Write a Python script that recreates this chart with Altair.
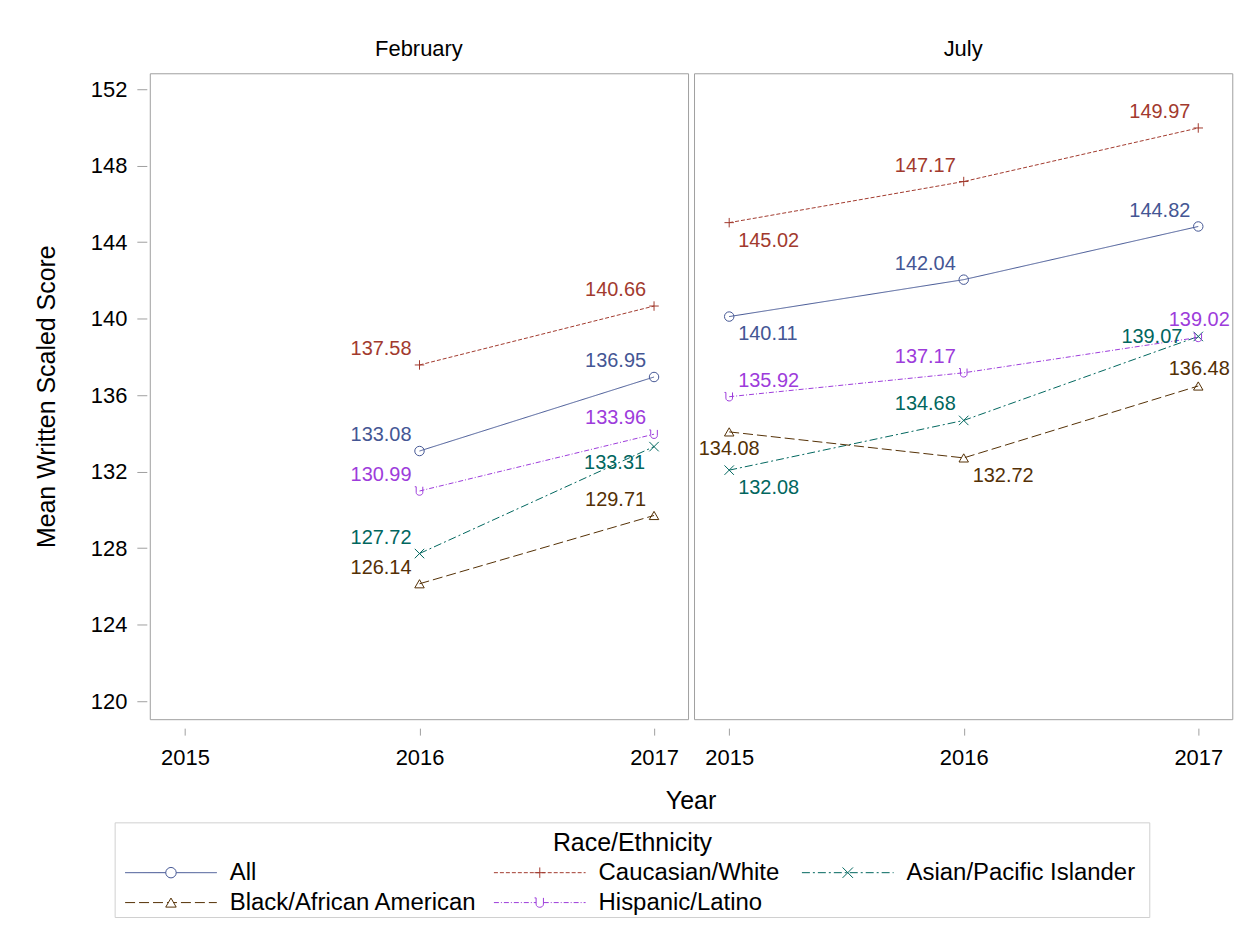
import altair as alt
import pandas as pd

# ---------------- data ----------------
groups = ["All", "Caucasian/White", "Asian/Pacific Islander",
          "Black/African American", "Hispanic/Latino"]
colors = ["#445694", "#A23A2E", "#01665E", "#543005", "#9D3CDB"]
months = ["February", "July"]
tick_years = [2015, 2016, 2017]
y_ticks = [120, 124, 128, 132, 136, 140, 144, 148, 152]

feb_years = [2016, 2017]
feb_all = [133.08, 136.95]
feb_white = [137.58, 140.66]
feb_asian = [127.72, 133.31]
feb_black = [126.14, 129.71]
feb_hisp = [130.99, 133.96]

jul_years = [2015, 2016, 2017]
jul_all = [140.11, 142.04, 144.82]
jul_white = [145.02, 147.17, 149.97]
jul_asian = [132.08, 134.68, 139.07]
jul_black = [134.08, 132.72, 136.48]
jul_hisp = [135.92, 137.17, 139.02]

# label placement codes (compass side of the point where the value label sits)
feb_all_pos = ["NW", "NW"]
feb_white_pos = ["NW", "NW"]
feb_asian_pos = ["NW", "SW"]
feb_black_pos = ["NW", "NW"]
feb_hisp_pos = ["NW", "NW"]
jul_all_pos = ["SE", "NW", "NW"]
jul_white_pos = ["SE", "NW", "NW"]
jul_asian_pos = ["SE", "NW", "W"]
jul_black_pos = ["S", "SE", "N"]
jul_hisp_pos = ["NE", "NW", "N"]

series = [
    ("February", "All", feb_years, feb_all, feb_all_pos),
    ("February", "Caucasian/White", feb_years, feb_white, feb_white_pos),
    ("February", "Asian/Pacific Islander", feb_years, feb_asian, feb_asian_pos),
    ("February", "Black/African American", feb_years, feb_black, feb_black_pos),
    ("February", "Hispanic/Latino", feb_years, feb_hisp, feb_hisp_pos),
    ("July", "All", jul_years, jul_all, jul_all_pos),
    ("July", "Caucasian/White", jul_years, jul_white, jul_white_pos),
    ("July", "Asian/Pacific Islander", jul_years, jul_asian, jul_asian_pos),
    ("July", "Black/African American", jul_years, jul_black, jul_black_pos),
    ("July", "Hispanic/Latino", jul_years, jul_hisp, jul_hisp_pos),
]
rows = []
for m, g, yrs, vals, pos in series:
    for yr, v, p in zip(yrs, vals, pos):
        rows.append({"month": m, "group": g, "year": yr, "value": v, "pos": p})
df = pd.DataFrame(rows)

# ---------------- styles ----------------
FONT = "Liberation Sans"
dashes = [[1, 0], [4, 2], [8, 3, 2, 3], [10, 4], [5, 2, 1, 2]]
plus_path = "M-1,0L1,0M0,-1L0,1"
x_path = "M-1,-1L1,1M-1,1L1,-1"
u_path = "M-0.7,-0.9L-0.7,0.3C-0.7,1.1 0.7,1.1 0.7,0.3L0.7,-0.9M-0.7,-0.9L-1,-0.9"
shapes = ["circle", plus_path, x_path, "triangle-up", u_path]

color_scale = alt.Scale(domain=groups, range=colors)
dash_scale = alt.Scale(domain=groups, range=dashes)
shape_scale = alt.Scale(domain=groups, range=shapes)

x_enc = alt.X(
    "year:Q",
    scale=alt.Scale(domain=[2014.85, 2017.145], nice=False, zero=False),
    axis=alt.Axis(values=tick_years, format="d", title=None, grid=False,
                  domain=False, offset=8, tickSize=7, labelPadding=12,
                  labelFontSize=22, tickColor="#a0a0a0", labelColor="black",
                  labelFont=FONT),
)
y_enc = alt.Y(
    "value:Q",
    scale=alt.Scale(domain=[119.06, 152.83], nice=False, zero=False),
    axis=alt.Axis(values=y_ticks, title="Mean Written Scaled Score", grid=False,
                  domain=False, offset=2, tickSize=10, labelPadding=10,
                  titlePadding=31, labelFontSize=22, titleFontSize=25,
                  tickColor="#a0a0a0", labelColor="black", titleColor="black",
                  titleFontWeight="normal", labelFont=FONT, titleFont=FONT),
)
col_enc = alt.Color("group:N", scale=color_scale, legend=None)

lines = alt.Chart().mark_line(strokeWidth=1).encode(
    x=x_enc, y=y_enc, color=col_enc,
    strokeDash=alt.StrokeDash("group:N", scale=dash_scale, legend=None),
    order="year:Q",
)
points = alt.Chart().mark_point(filled=False, strokeWidth=1, size=90, opacity=1).encode(
    x=x_enc, y=y_enc, color=col_enc,
    shape=alt.Shape("group:N", scale=shape_scale, legend=None),
)

placements = {
    "NW": ("right", -8, -16),
    "NE": ("left", 9, -16),
    "N": ("center", 1, -17),
    "SW": ("right", -9, 16),
    "SE": ("left", 9, 18),
    "S": ("center", 0, 17),
    "W": ("right", -16, 1),
}
texts = []
for code, (al, dx, dy) in placements.items():
    texts.append(
        alt.Chart().mark_text(align=al, baseline="middle", dx=dx, dy=dy,
                              fontSize=20, font=FONT).encode(
            x=x_enc, y=y_enc, color=col_enc,
            text=alt.Text("value:Q", format=".2f"),
        ).transform_filter(alt.datum.pos == code)
    )

panel = alt.layer(lines, points, *texts, data=df).properties(width=540, height=648)

facet_chart = panel.facet(
    column=alt.Column("month:N", sort=months, title="Year",
                      header=alt.Header(labelOrient="top", labelFontSize=22,
                                        labelFont=FONT, labelColor="black",
                                        labelPadding=11,
                                        titleOrient="bottom", titleFontSize=25,
                                        titleFont=FONT, titleColor="black",
                                        titleFontWeight="normal", titlePadding=11)),
    spacing=4,
)

# ---------------- legend (drawn as its own small chart) ----------------
leg_col = [0, 1, 2, 0, 1]
leg_row = [0, 0, 0, 1, 1]
BOX_W, BOX_H = 1038, 95
BOX_X0 = -60  # layout: the box starts left of the (centred) legend view
leg_col_px = [BOX_X0 + 10, BOX_X0 + 380, BOX_X0 + 689]
leg_row_px = [50, 80]
leg_rows = []
for g, c, r in zip(groups, leg_col, leg_row):
    x0 = leg_col_px[c]
    leg_rows.append({"group": g, "lx0": x0, "lx1": x0 + 92, "lxm": x0 + 46,
                     "ltx": x0 + 105, "ly": leg_row_px[r]})
leg_df = pd.DataFrame(leg_rows)

px_x = lambda f: alt.X(f"{f}:Q", scale=None, axis=None)
px_y = alt.Y("ly:Q", scale=None, axis=None)
leg_box = alt.Chart(pd.DataFrame({"b": [0]})).mark_rect(
    fill=None, stroke="#d0d0d0", strokeWidth=1).encode(
    x=alt.value(BOX_X0), x2=alt.value(BOX_X0 + BOX_W), y=alt.value(0), y2=alt.value(BOX_H))
leg_lines = alt.Chart(leg_df).mark_rule(strokeWidth=1).encode(
    x=px_x("lx0"), x2="lx1:Q", y=px_y, color=col_enc,
    strokeDash=alt.StrokeDash("group:N", scale=dash_scale, legend=None),
)
leg_pts = alt.Chart(leg_df).mark_point(filled=False, strokeWidth=1, size=110, opacity=1,
                                        fill="white").encode(
    x=px_x("lxm"), y=px_y, color=col_enc,
    shape=alt.Shape("group:N", scale=shape_scale, legend=None),
)
leg_txt = alt.Chart(leg_df).mark_text(align="left", baseline="middle", fontSize=24,
                                      font=FONT, color="black").encode(
    x=px_x("ltx"), y=px_y, text="group:N",
)
leg_title = alt.Chart(pd.DataFrame({"t": ["Race/Ethnicity"]})).mark_text(
    fontSize=25, font=FONT, color="black", baseline="middle").encode(
    x=alt.value(BOX_X0 + BOX_W / 2), y=alt.value(20), text="t:N")

legend_chart = alt.layer(leg_box, leg_lines, leg_pts, leg_txt, leg_title).properties(
    width=BOX_W - 2, height=BOX_H, view=alt.ViewBackground(stroke=None)
)

chart = alt.vconcat(facet_chart, legend_chart, spacing=8, center=True).properties(
    padding={"left": 26, "top": 29, "right": 6, "bottom": 3}
).configure(font=FONT).configure_view(stroke="#a0a0a0", strokeWidth=1)

chart.save("out.html", embed_options={"renderer": "svg", "actions": False})
